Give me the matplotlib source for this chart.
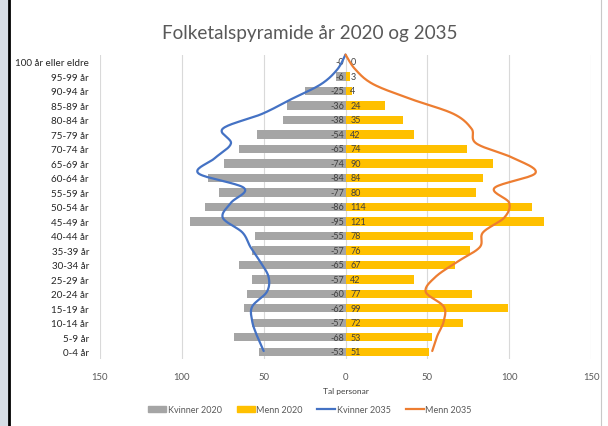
import numpy as np
import matplotlib.pyplot as plt
from matplotlib.patches import Patch
from matplotlib.lines import Line2D

plt.rcParams['font.family'] = ['Lato', 'DejaVu Sans']

# age groups from bottom (0-4) to top (100+)
age_groups = ['0-4 år', '5-9 år', '10-14 år', '15-19 år', '20-24 år', '25-29 år',
              '30-34 år', '35-39 år', '40-44 år', '45-49 år', '50-54 år', '55-59 år',
              '60-64 år', '65-69 år', '70-74 år', '75-79 år', '80-84 år', '85-89 år',
              '90-94 år', '95-99 år', '100 år eller eldre']
kvinner_2020 = [53, 68, 57, 62, 60, 57, 65, 57, 55, 95, 86, 77, 84, 74, 65, 54, 38, 36, 25, 6, 0]
menn_2020 = [51, 53, 72, 99, 77, 42, 67, 76, 78, 121, 114, 80, 84, 90, 74, 42, 35, 24, 4, 3, 0]
kvinner_2035 = [50, 54, 57, 57, 48, 47, 52, 58, 63, 75, 70, 62, 90, 80, 70, 75, 51, 33, 15, 5, 0]
menn_2035 = [53, 56, 60, 60, 49, 55, 68, 82, 84, 97, 100, 91, 116, 103, 80, 77, 66, 40, 17, 6, 0]

xticks = [-150, -100, -50, 0, 50, 100, 150]
xtick_labels = ['150', '100', '50', '0', '50', '100', '150']

GREY = '#A5A5A5'
YELLOW = '#FFC000'
BLUE = '#4472C4'
ORANGE = '#ED7D31'
TEXT = '#595959'


def smooth(xv, yv, sx=1.64, sy=14.85, n=20):
    # excel-like smoothed line (bezier through the points)
    p = np.column_stack([np.asarray(xv, float) * sx, np.asarray(yv, float) * sy])
    pts = [p[0]]
    for i in range(len(p) - 1):
        p0 = p[max(i - 1, 0)]
        p1 = p[i]
        p2 = p[i + 1]
        p3 = p[min(i + 2, len(p) - 1)]
        c1 = p1 + (p2 - p0) / 6
        c2 = p2 - (p3 - p1) / 6
        t = np.linspace(0, 1, n)[1:, None]
        seg = (1 - t) ** 3 * p1 + 3 * (1 - t) ** 2 * t * c1 + 3 * (1 - t) * t ** 2 * c2 + t ** 3 * p2
        pts.extend(seg)
    pts = np.array(pts)
    return pts[:, 0] / sx, pts[:, 1] / sy


W, H = 608, 427
fig = plt.figure(figsize=(W / 100, H / 100), dpi=100)

# frame bits at the edges
fig.patches.append(plt.Rectangle((0, 0), 8 / W, 1, transform=fig.transFigure,
                                 color='#D6DCE4', zorder=0))
fig.add_artist(Line2D([9 / W, 9 / W], [0, 1], transform=fig.transFigure, color='black', lw=2))
fig.add_artist(Line2D([601 / W, 601 / W], [0, 1], transform=fig.transFigure, color='#C8C8C8', lw=0.8))

ax = fig.add_axes([100 / W, 1 - 360 / H, 491 / W, 304.25 / H])
y = np.arange(len(age_groups))

ax.barh(y, [-v for v in kvinner_2020], height=0.58, color=GREY, zorder=2)
ax.barh(y, menn_2020, height=0.58, color=YELLOW, zorder=2)

for k, v in enumerate(kvinner_2020):
    ax.text(-1, k, f'-{v}', ha='right', va='center', fontsize=6.5, color='#404040', zorder=3)
for k, v in enumerate(menn_2020):
    ax.text(3, k, f'{v}', ha='left', va='center', fontsize=6.5, color='#404040', zorder=3)

ax.set_xlim(-150, 150)
ax.set_ylim(-0.5, 20.5)
ax.set_xticks(xticks)
ax.set_xticklabels(xtick_labels)
ax.set_yticks(y)
ax.set_yticklabels(age_groups)
ax.tick_params(length=0)
ax.tick_params(axis='x', pad=9, labelsize=6.8, labelcolor=TEXT)
ax.tick_params(axis='y', pad=8, labelsize=7.1, labelcolor='#262626')
ax.grid(axis='x', color='#D9D9D9', lw=0.8, zorder=0)
ax.set_axisbelow(True)
for s in ax.spines.values():
    s.set_visible(False)
ax.set_xlabel('Tal personar', fontsize=6, color='#404040', labelpad=5)

# lines on a secondary category axis
ax2 = ax.twinx()
ax2.set_ylim(-0.54, 19.99)
ax2.set_axis_off()
kx, ky = smooth([-v for v in kvinner_2035], y)
ax2.plot(kx, ky, color=BLUE, lw=1.6, clip_on=False, solid_capstyle='round')
mx, my = smooth(menn_2035, y)
ax2.plot(mx, my, color=ORANGE, lw=1.6, clip_on=False, solid_capstyle='round')

fig.text(310 / W, 1 - 33 / H, 'Folketalspyramide år 2020 og 2035', ha='center', va='center',
         fontsize=13.6, color=TEXT)

handles = [Patch(color=GREY), Patch(color=YELLOW),
           Line2D([], [], color=BLUE, lw=1.6), Line2D([], [], color=ORANGE, lw=1.6)]
labels = ['Kvinner 2020', 'Menn 2020', 'Kvinner 2035', 'Menn 2035']
leg = fig.legend(handles, labels, loc='center', bbox_to_anchor=(310 / W, 1 - 411 / H), ncol=4,
                 frameon=False, fontsize=6.5, handlelength=2.0, handleheight=0.6,
                 handletextpad=0.2, columnspacing=1.6)
for t in leg.get_texts():
    t.set_color(TEXT)

fig.savefig('out.png', dpi=100)
